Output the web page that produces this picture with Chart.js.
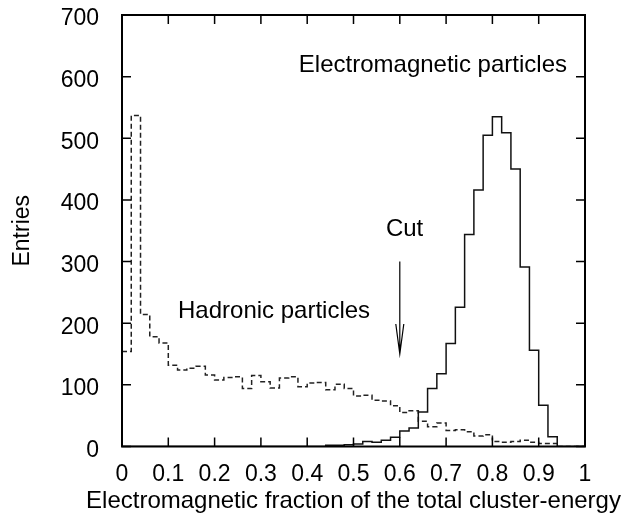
<!DOCTYPE html>
<html>
<head>
<meta charset="utf-8">
<script src="https://cdn.jsdelivr.net/npm/chart.js@4.4.1/dist/chart.umd.min.js"></script>
<style>
  html, body { margin: 0; padding: 0; background: #fff; }
  #wrap { width: 626px; height: 519px; }
</style>
</head>
<body>
<div id="wrap"><canvas id="chart" width="626" height="519"></canvas></div>
<script>
// left edge of each histogram bin (bin width 0.02)
const binStart = [
  0.00, 0.02, 0.04, 0.06, 0.08, 0.10, 0.12, 0.14, 0.16, 0.18,
  0.20, 0.22, 0.24, 0.26, 0.28, 0.30, 0.32, 0.34, 0.36, 0.38,
  0.40, 0.42, 0.44, 0.46, 0.48, 0.50, 0.52, 0.54, 0.56, 0.58,
  0.60, 0.62, 0.64, 0.66, 0.68, 0.70, 0.72, 0.74, 0.76, 0.78,
  0.80, 0.82, 0.84, 0.86, 0.88, 0.90, 0.92, 0.94, 0.96, 0.98
];
const lastEdge = 1.0;

// electromagnetic particles (solid)
const emCounts = [
  0, 0, 0, 0, 0, 0, 0, 0, 0, 0,
  0, 0, 0, 0, 0, 0, 0, 0, 0, 0,
  0, 0, 2, 2, 3, 4, 8, 7, 10, 15,
  25, 30, 56, 94, 118, 167, 226, 344, 416, 505,
  535, 509, 450, 291, 156, 67, 16, 0, 0, 0
];

// hadronic particles (dashed)
const hadCounts = [
  154, 537, 214, 178, 168, 132, 124, 127, 130, 116,
  108, 112, 113, 94, 115, 105, 95, 111, 113, 97,
  103, 104, 92, 101, 94, 82, 83, 75, 74, 66,
  55, 58, 41, 32, 38, 26, 27, 24, 17, 19,
  8, 7, 8, 10, 7, 5, 5, 0, 0, 0
];

const xTickValues = [0, 0.1, 0.2, 0.3, 0.4, 0.5, 0.6, 0.7, 0.8, 0.9, 1];
const xTickLabels = ["0", "0.1", "0.2", "0.3", "0.4", "0.5", "0.6", "0.7", "0.8", "0.9", "1"];
const yTickValues = [0, 100, 200, 300, 400, 500, 600, 700];

const xTitle = "Electromagnetic fraction of the total cluster-energy";
const notes = [
  { text: "Electromagnetic particles", x: 0.382, y: 618 },
  { text: "Hadronic particles", x: 0.121, y: 219 },
  { text: "Cut", x: 0.570, y: 353 }
];
const cutArrow = { x: 0.6, from: 300, to: 150 };

const FONT = "'Liberation Sans', Arial, sans-serif";

function toSteps(values) {
  const pts = binStart.map((x, i) => ({ x: x, y: values[i] }));
  pts.push({ x: lastEdge, y: 0 });
  return pts;
}

const framePlugin = {
  id: "frame",
  afterDatasetsDraw(chart) {
    const { ctx, chartArea: a, scales } = chart;
    const len = 9;
    ctx.save();
    ctx.strokeStyle = "#000";
    ctx.lineWidth = 2;
    ctx.strokeRect(a.left, a.top, a.right - a.left, a.bottom - a.top);
    ctx.lineWidth = 1.5;
    ctx.beginPath();
    xTickValues.forEach(v => {
      const px = scales.x.getPixelForValue(v);
      ctx.moveTo(px, a.bottom); ctx.lineTo(px, a.bottom - len);
      ctx.moveTo(px, a.top); ctx.lineTo(px, a.top + len);
    });
    yTickValues.forEach(v => {
      const py = scales.y.getPixelForValue(v);
      ctx.moveTo(a.left, py); ctx.lineTo(a.left + len, py);
      ctx.moveTo(a.right, py); ctx.lineTo(a.right - len, py);
    });
    ctx.stroke();

    // annotations
    ctx.fillStyle = "#000";
    ctx.font = "24px " + FONT;
    ctx.textAlign = "left";
    ctx.textBaseline = "middle";
    notes.forEach(n => {
      ctx.fillText(n.text, scales.x.getPixelForValue(n.x), scales.y.getPixelForValue(n.y));
    });

    // x axis title, drawn here so it is not squeezed to the axis width
    ctx.textAlign = "center";
    ctx.fillText(xTitle, (a.left + a.right) / 2, a.bottom + 55);

    // cut arrow
    const ax = scales.x.getPixelForValue(cutArrow.x);
    const y0 = scales.y.getPixelForValue(cutArrow.from);
    const y1 = scales.y.getPixelForValue(cutArrow.to);
    ctx.lineWidth = 1.2;
    ctx.beginPath();
    ctx.moveTo(ax, y0); ctx.lineTo(ax, y1);
    ctx.moveTo(ax - 4, y1 - 30); ctx.lineTo(ax, y1); ctx.lineTo(ax + 4, y1 - 30);
    ctx.stroke();
    ctx.restore();
  }
};

const ctx = document.getElementById("chart").getContext("2d");

new Chart(ctx, {
  type: "line",
  data: {
    datasets: [
      {
        label: "Electromagnetic particles",
        data: toSteps(emCounts),
        stepped: "before",
        borderColor: "#111",
        borderWidth: 1.5,
        pointRadius: 0,
        fill: false
      },
      {
        label: "Hadronic particles",
        data: toSteps(hadCounts),
        stepped: "before",
        borderColor: "#222",
        borderWidth: 1.5,
        borderDash: [5, 3],
        pointRadius: 0,
        fill: false
      }
    ]
  },
  options: {
    responsive: false,
    animation: false,
    events: [],
    layout: { padding: { left: 0, right: 41, top: 15, bottom: 0 } },
    plugins: {
      legend: { display: false },
      tooltip: { enabled: false }
    },
    scales: {
      x: {
        type: "linear",
        min: 0,
        max: 1,
        afterBuildTicks: s => { s.ticks = xTickValues.map(v => ({ value: v })); },
        afterFit: s => { s.height = 72.5; },
        grid: { display: false },
        border: { display: false },
        ticks: {
          padding: 6,
          color: "#000",
          font: { family: FONT, size: 23 },
          callback: (v, i) => xTickLabels[i]
        }
      },
      y: {
        min: 0,
        max: 700,
        afterBuildTicks: s => { s.ticks = yTickValues.map(v => ({ value: v })); },
        afterFit: s => { s.width = 122; s.paddingTop = 0; s.paddingBottom = 0; },
        grid: { display: false },
        border: { display: false },
        ticks: {
          padding: 15,
          labelOffset: 4,
          color: "#000",
          font: { family: FONT, size: 23 }
        },
        title: {
          display: true,
          text: "Entries",
          color: "#000",
          font: { family: FONT, size: 23 },
          padding: { top: 9, bottom: 0 }
        }
      }
    }
  },
  plugins: [framePlugin]
});
</script>
</body>
</html>
